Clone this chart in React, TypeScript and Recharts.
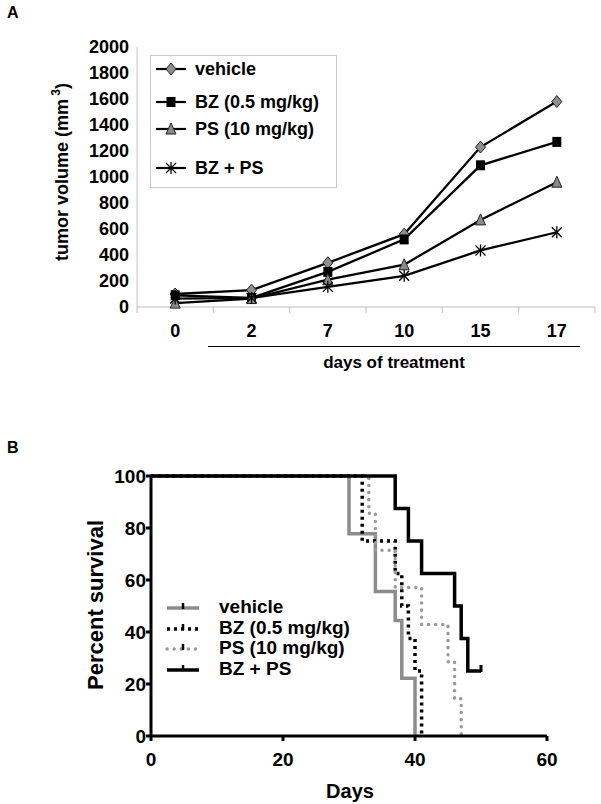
import React from "react";
import { Legend, Line, LineChart, XAxis, YAxis } from "recharts";

// panel A: tumor volume
const days = ["0", "2", "7", "10", "15", "17"];
const vehicleVol = [100, 130, 340, 560, 1230, 1580];
const bzVol = [90, 70, 270, 520, 1090, 1270];
const psVol = [30, 65, 210, 325, 670, 960];
const comboVol = [65, 70, 155, 240, 435, 575];
const volumeTicks = [0, 200, 400, 600, 800, 1000, 1200, 1400, 1600, 1800, 2000];

// panel B: survival
const vehicleDays = [0, 30, 34, 37, 38, 40];
const vehiclePct = [100, 77.8, 55.6, 44.4, 22.2, 0];
const bzDays = [0, 32, 37, 38, 39, 40, 41];
const bzPct = [100, 75, 62.5, 50, 37.5, 25, 0];
const psDays = [0, 33, 34, 37, 41, 45, 46, 47];
const psPct = [100, 85.7, 71.4, 57.1, 42.9, 28.6, 14.3, 0];
const comboDays = [0, 37, 39, 41, 46, 47, 48, 50];
const comboPct = [100, 87.5, 75, 62.5, 50, 37.5, 25, 25];
const dayTicks = [0, 20, 40, 60];
const pctTicks = [0, 20, 40, 60, 80, 100];

const FONT = "'Liberation Sans', Arial, Helvetica, sans-serif";

const tumorData = days.map((d, i) => ({
  day: d,
  vehicle: vehicleVol[i],
  bz: bzVol[i],
  ps: psVol[i],
  combo: comboVol[i],
}));

const toCurve = (xs: number[], ys: number[], censorLast = false) =>
  xs.map((x, i) => ({
    day: x,
    pct: ys[i],
    censored: censorLast && i === xs.length - 1,
  }));

const vehicleCurve = toCurve(vehicleDays, vehiclePct);
const bzCurve = toCurve(bzDays, bzPct);
const psCurve = toCurve(psDays, psPct);
const comboCurve = toCurve(comboDays, comboPct, true);

// chart A geometry
const A_LEFT = 137;
const A_RIGHT = 595;
const A_TOP = 47;
const A_BOTTOM = 307;
const BAND = (A_RIGHT - A_LEFT) / days.length;

const diamond = (cx: number, cy: number) => (
  <path
    d={`M${cx},${cy - 6}L${cx + 5},${cy}L${cx},${cy + 6}L${cx - 5},${cy}Z`}
    fill="#8f8f8f"
    stroke="#222"
    strokeWidth={1}
  />
);
const square = (cx: number, cy: number) => (
  <rect x={cx - 4.5} y={cy - 5} width={9} height={10} fill="#000" />
);
const triangle = (cx: number, cy: number) => (
  <path
    d={`M${cx},${cy - 6}L${cx + 5},${cy + 5}L${cx - 5},${cy + 5}Z`}
    fill="#8a8a8a"
    stroke="#222"
    strokeWidth={1}
  />
);
const asterisk = (cx: number, cy: number) => (
  <g stroke="#000" strokeWidth={1.3}>
    <line x1={cx - 5} y1={cy - 5} x2={cx + 5} y2={cy + 5} />
    <line x1={cx - 5} y1={cy + 5} x2={cx + 5} y2={cy - 5} />
    <line x1={cx} y1={cy - 6} x2={cx} y2={cy + 6} />
  </g>
);

const dotOf =
  (shape: (cx: number, cy: number) => React.ReactElement) => (p: any) =>
    <g key={`d-${p.index}`}>{shape(p.cx, p.cy)}</g>;

const seriesA = [
  { key: "vehicle", name: "vehicle", shape: diamond },
  { key: "bz", name: "BZ (0.5 mg/kg)", shape: square },
  { key: "ps", name: "PS (10 mg/kg)", shape: triangle },
  { key: "combo", name: "BZ + PS", shape: asterisk },
];

const legendRowsA = [13, 46, 73, 112];

const LegendA = () => (
  <div
    style={{
      position: "relative",
      width: 187,
      height: 133,
      border: "1px solid #c8c8c8",
      background: "#fff",
      boxSizing: "border-box",
      fontFamily: FONT,
      fontWeight: 700,
      fontSize: 18,
    }}
  >
    {seriesA.map((s, i) => (
      <div
        key={s.key}
        style={{
          position: "absolute",
          left: 4,
          top: legendRowsA[i] - 11,
          height: 22,
          display: "flex",
          alignItems: "center",
          whiteSpace: "nowrap",
        }}
      >
        <svg width={32} height={16} style={{ marginRight: 8 }}>
          <line x1={1} y1={8} x2={31} y2={8} stroke="#000" strokeWidth={2.2} />
          {s.shape(16, 8)}
        </svg>
        <span>{s.name}</span>
      </div>
    ))}
  </div>
);

const XTickA = (p: any) => {
  const left = p.x - BAND / 2;
  const last = p.index === days.length - 1;
  return (
    <g>
      <line x1={left} x2={left} y1={A_BOTTOM} y2={A_BOTTOM + 6} stroke="#bdbdbd" />
      {last && (
        <line
          x1={p.x + BAND / 2}
          x2={p.x + BAND / 2}
          y1={A_BOTTOM}
          y2={A_BOTTOM + 6}
          stroke="#bdbdbd"
        />
      )}
      <text
        x={p.x}
        y={A_BOTTOM + 30}
        textAnchor="middle"
        fontFamily={FONT}
        fontWeight={700}
        fontSize={18}
        fill="#000"
      >
        {p.payload.value}
      </text>
    </g>
  );
};

const YTitleA = () => (
  <text
    transform={`translate(68, ${(A_TOP + A_BOTTOM) / 2 - 5}) rotate(-90)`}
    textAnchor="middle"
    fontFamily={FONT}
    fontWeight={700}
    fontSize={18}
    fill="#000"
  >
    tumor volume (mm
    <tspan fontSize={12} dy={-8}>
      {" "}3
    </tspan>
    <tspan dy={8}>)</tspan>
  </text>
);

// chart B
const B_TOP = 400;

const censorDot = (p: any) =>
  p.payload.censored ? (
    <line
      key={`c-${p.index}`}
      x1={p.cx}
      x2={p.cx}
      y1={p.cy - 6}
      y2={p.cy + 1}
      stroke="#000"
      strokeWidth={3}
    />
  ) : (
    <g key={`c-${p.index}`} />
  );

const seriesB = [
  { name: "vehicle", data: vehicleCurve, color: "#8c8c8c", dash: undefined, cap: "butt" },
  { name: "BZ (0.5 mg/kg)", data: bzCurve, color: "#000", dash: "3 4", cap: "butt" },
  { name: "PS (10 mg/kg)", data: psCurve, color: "#9a9a9a", dash: "0.1 7", cap: "round" },
  { name: "BZ + PS", data: comboCurve, color: "#000", dash: undefined, cap: "butt" },
];

const LegendB = () => (
  <div style={{ fontFamily: FONT, fontWeight: 700, fontSize: 19, lineHeight: "20.5px" }}>
    {seriesB.map((s) => (
      <div key={s.name} style={{ display: "flex", alignItems: "center", whiteSpace: "nowrap" }}>
        <svg width={36} height={14} style={{ marginRight: 18 }}>
          <line
            x1={2}
            y1={8}
            x2={34}
            y2={8}
            stroke={s.color}
            strokeWidth={3.5}
            strokeDasharray={s.dash}
            strokeLinecap={s.cap as any}
          />
          <line x1={18} x2={18} y1={3} y2={9} stroke="#000" strokeWidth={2.5} />
        </svg>
        <span>{s.name}</span>
      </div>
    ))}
  </div>
);

const tickB = { fontFamily: FONT, fontWeight: 700, fontSize: 19, fill: "#000" };

export default function App() {
  return (
    <div
      style={{
        position: "absolute",
        left: 0,
        top: 0,
        width: 601,
        height: 804,
        background: "#fff",
        fontFamily: FONT,
      }}
    >
      <div style={{ position: "absolute", left: 7, top: 4, fontWeight: 700, fontSize: 16 }}>A</div>
      <div style={{ position: "absolute", left: 7, top: 439, fontWeight: 700, fontSize: 16 }}>B</div>

      <div style={{ position: "absolute", left: 0, top: 0 }}>
        <LineChart
          width={601}
          height={345}
          data={tumorData}
          margin={{ top: A_TOP, right: 601 - A_RIGHT, bottom: 0, left: 0 }}
        >
          <XAxis
            dataKey="day"
            interval={0}
            height={345 - A_BOTTOM}
            padding={{ left: BAND / 2, right: BAND / 2 }}
            tickLine={false}
            axisLine={{ stroke: "#bdbdbd" }}
            tick={XTickA}
          />
          <XAxis
            xAxisId="top"
            dataKey="day"
            orientation="top"
            height={0}
            tick={false}
            tickLine={false}
            axisLine={{ stroke: "#d0d0d0" }}
          />
          <YAxis
            width={A_LEFT}
            domain={[0, 2000]}
            ticks={volumeTicks}
            interval={0}
            tickLine={false}
            axisLine={{ stroke: "#c8c8c8" }}
            tick={{ fontFamily: FONT, fontWeight: 700, fontSize: 18, fill: "#000" }}
            label={{ content: YTitleA }}
          />
          <YAxis
            yAxisId="right"
            orientation="right"
            width={0}
            domain={[0, 2000]}
            tick={false}
            tickLine={false}
            axisLine={{ stroke: "#d0d0d0" }}
          />
          <Legend
            layout="horizontal"
            verticalAlign="middle"
            align="center"
            content={LegendA}
            wrapperStyle={{ position: "absolute", left: 150, top: 55, width: 187, height: 133 }}
          />
          {seriesA.map((s) => (
            <Line
              key={s.key}
              dataKey={s.key}
              name={s.name}
              type="linear"
              stroke="#000"
              strokeWidth={2.3}
              dot={dotOf(s.shape)}
              activeDot={false}
              isAnimationActive={false}
            />
          ))}
        </LineChart>
      </div>

      <div
        style={{
          position: "absolute",
          left: 208,
          top: 346,
          width: 372,
          borderTop: "1.5px solid #000",
          textAlign: "center",
          fontWeight: 700,
          fontSize: 17,
          paddingTop: 6,
        }}
      >
        days of treatment
      </div>

      <div style={{ position: "absolute", left: 0, top: B_TOP }}>
        <LineChart width={601} height={404} margin={{ top: 76, right: 54, bottom: 28, left: 0 }}>
          <XAxis
            dataKey="day"
            type="number"
            domain={[0, 60]}
            ticks={dayTicks}
            interval={0}
            height={40}
            tickSize={5}
            tickMargin={12}
            axisLine={{ stroke: "#000", strokeWidth: 3 }}
            tickLine={{ stroke: "#000", strokeWidth: 3 }}
            tick={tickB}
            label={{
              content: () => (
                <text
                  x={350}
                  y={398}
                  textAnchor="middle"
                  fontFamily={FONT}
                  fontWeight={700}
                  fontSize={20}
                  fill="#000"
                >
                  Days
                </text>
              ),
            }}
          />
          <YAxis
            dataKey="pct"
            width={151}
            domain={[0, 100]}
            ticks={pctTicks}
            interval={0}
            tickSize={5}
            tickMargin={0}
            axisLine={{ stroke: "#000", strokeWidth: 3 }}
            tickLine={{ stroke: "#000", strokeWidth: 3 }}
            tick={tickB}
            label={{
              content: () => (
                <text
                  transform="translate(103, 205) rotate(-90)"
                  textAnchor="middle"
                  fontFamily={FONT}
                  fontWeight={700}
                  fontSize={22}
                  fill="#000"
                >
                  Percent survival
                </text>
              ),
            }}
          />
          <Legend
            layout="horizontal"
            verticalAlign="middle"
            align="center"
            content={LegendB}
            wrapperStyle={{ position: "absolute", left: 165, top: 197, width: 220 }}
          />
          {seriesB.map((s) => (
            <Line
              key={s.name}
              data={s.data}
              dataKey="pct"
              name={s.name}
              type="stepAfter"
              stroke={s.color}
              strokeWidth={3.5}
              strokeDasharray={s.dash}
              strokeLinecap={s.cap as any}
              dot={s.name === "BZ + PS" ? censorDot : false}
              activeDot={false}
              isAnimationActive={false}
            />
          ))}
        </LineChart>
      </div>
    </div>
  );
}
